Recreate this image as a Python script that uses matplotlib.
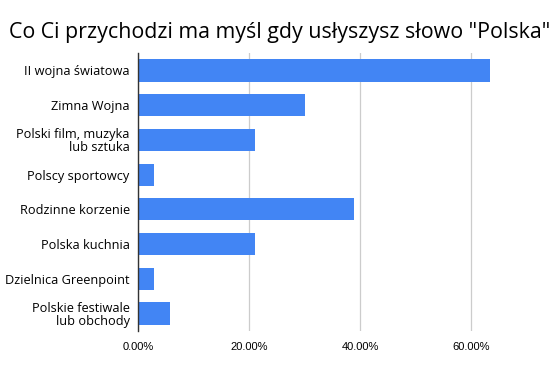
import numpy as np
import matplotlib.pyplot as plt
from matplotlib.ticker import FuncFormatter

categories = ['II wojna światowa', 'Zimna Wojna', 'Polski film, muzyka\nlub sztuka',
              'Polscy sportowcy', 'Rodzinne korzenie', 'Polska kuchnia',
              'Dzielnica Greenpoint', 'Polskie festiwale\nlub obchody']
values = [0.634, 0.300, 0.210, 0.028, 0.389, 0.210, 0.028, 0.057]
xticks = [0.0, 0.2, 0.4, 0.6]

fig = plt.figure(figsize=(5.6, 3.71), dpi=100)
ax = fig.add_axes([0.2464, 0.108, 0.645, 0.749])

y = np.arange(len(categories))
ax.barh(y, values, height=0.64, color='#4285f4', zorder=3)
ax.set_ylim(len(categories) - 0.5, -0.5)
ax.set_xlim(0, 0.65)

ax.set_yticks(y)
ax.set_yticklabels(categories, fontfamily='Open Sans', fontsize=9.2, linespacing=0.95)
ax.set_xticks(xticks)
ax.xaxis.set_major_formatter(FuncFormatter(lambda v, p: f'{v * 100:.2f}%'))
for lab in ax.get_xticklabels():
    lab.set_fontfamily('Liberation Sans')
    lab.set_fontsize(8)
ax.tick_params(axis='both', length=0)
ax.tick_params(axis='y', pad=6)
ax.tick_params(axis='x', pad=8)

ax.grid(axis='x', color='#cccccc', linewidth=0.9, zorder=0)
for s in ['top', 'right', 'bottom']:
    ax.spines[s].set_visible(False)
ax.spines['left'].set_color('#333333')
ax.spines['left'].set_linewidth(1.0)
ax.spines['left'].set_zorder(4)

fig.text(0.5, 0.912, 'Co Ci przychodzi ma myśl gdy usłyszysz słowo "Polska"',
         ha='center', va='center', fontfamily='Open Sans', fontsize=15.4)

fig.savefig('out.png', dpi=100)
